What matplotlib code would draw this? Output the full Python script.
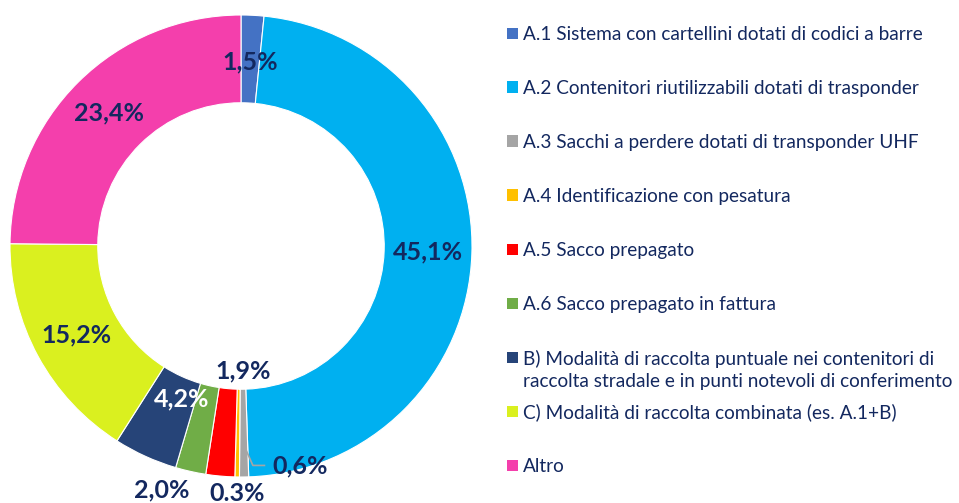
import numpy as np
import matplotlib
matplotlib.use('Agg')
import matplotlib.pyplot as plt
from matplotlib.patches import Rectangle

plt.rcParams['font.family'] = ['Lato', 'DejaVu Sans']

categories = ['A.1 Sistema con cartellini dotati di codici a barre',
              'A.2 Contenitori riutilizzabili dotati di trasponder',
              'A.3 Sacchi a perdere dotati di transponder UHF',
              'A.4 Identificazione con pesatura',
              'A.5 Sacco prepagato',
              'A.6 Sacco prepagato in fattura',
              'B) Modalità di raccolta puntuale nei contenitori di\nraccolta stradale e in punti notevoli di conferimento',
              'C) Modalità di raccolta combinata (es. A.1+B)',
              'Altro']
values = [1.5, 45.1, 0.6, 0.3, 1.9, 2.0, 4.2, 15.2, 23.4]
value_labels = ['1,5%', '45,1%', '0,6%', '0.3%', '1,9%', '2,0%', '4,2%', '15,2%', '23,4%']
colors = ['#4472C4', '#00B0F0', '#A5A5A5', '#FFC000', '#FF0000',
          '#70AD47', '#264478', '#DAF01F', '#F43FAC']

navy = '#13285f'

W, H = 959, 503
fig = plt.figure(figsize=(W / 100, H / 100), dpi=100)

# donut: centre (241, 246) px, radius 231 px
cx, cy, R = 241, 246, 231
ax = fig.add_axes([(cx - R) / W, (H - cy - R) / H, 2 * R / W, 2 * R / H])
wedges, _ = ax.pie(values, colors=colors, startangle=90, counterclock=False,
                   radius=1, wedgeprops=dict(width=0.38, edgecolor='white', linewidth=0.8))
ax.set_xlim(-1, 1)
ax.set_ylim(-1, 1)
ax.axis('off')

# label placement: radius and angular nudge (deg) per slice
lab_r = [0.80, 0.81, None, 1.07, 0.54, 1.11, 0.71, 0.81, 0.81]
lab_da = [0, 0, 0, 0, 6.2, -5.3, 3.2, 0, 0]
lab_col = [navy] * 9
lab_col[6] = 'white'

for i, w in enumerate(wedges):
    mid = np.deg2rad((w.theta1 + w.theta2) / 2 + lab_da[i])
    if lab_r[i] is None:
        # leader line for the thin grey slice
        x0, y0 = 0.86 * np.cos(mid), 0.86 * np.sin(mid)
        x1, y1 = x0 + 0.04, 0.95 * np.sin(mid)
        ax.plot([x0, x1, x1 + 0.05], [y0, y1, y1], color='#A5A5A5', lw=1.2, clip_on=False)
        ax.text(x1 + 0.085, y1, value_labels[i], ha='left', va='center', fontsize=18,
                fontweight='bold', color=navy, clip_on=False)
        continue
    ax.text(lab_r[i] * np.cos(mid), lab_r[i] * np.sin(mid), value_labels[i],
            ha='center', va='center', fontsize=18, fontweight='bold',
            color=lab_col[i], clip_on=False)

# legend drawn by hand
y_first, step, line_h = 33, 54, 23
for i, (lab, c) in enumerate(zip(categories, colors)):
    yc = y_first + i * step
    fig.add_artist(Rectangle((507 / W, (H - yc - 5.5) / H), 11 / W, 11 / H,
                             transform=fig.transFigure, facecolor=c, edgecolor='none'))
    for j, line in enumerate(lab.split('\n')):
        fig.text(523 / W, (H - yc - j * line_h) / H, line, ha='left',
                 va='center_baseline', fontsize=13.7, color=navy)

fig.savefig('out.png', dpi=100, facecolor='white')
